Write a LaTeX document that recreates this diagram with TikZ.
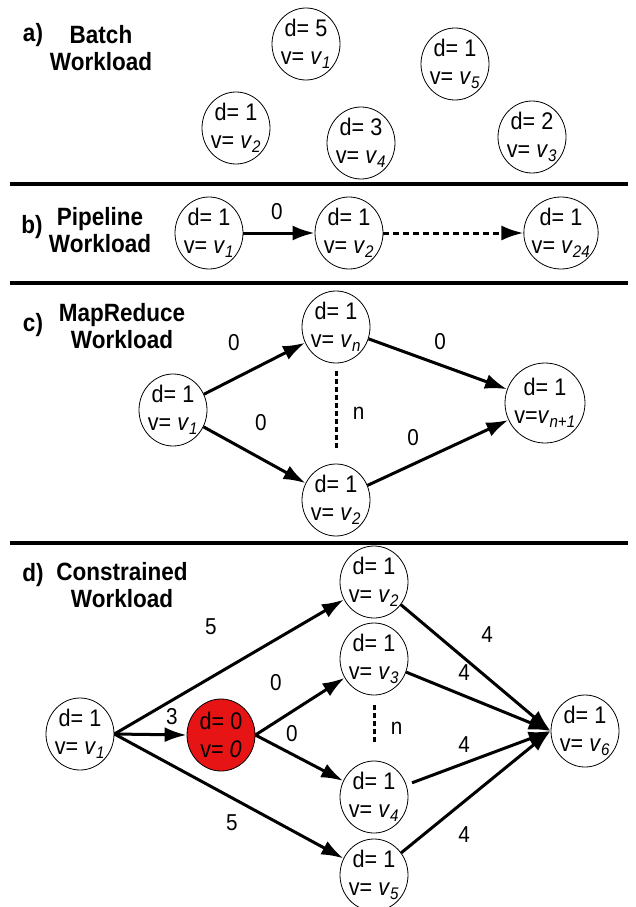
\documentclass[tikz,border=0pt]{standalone}
\usepackage{fontspec}
\setmainfont[FakeStretch=0.9]{Liberation Sans}
\usepackage{tikz}
\usetikzlibrary{positioning}
\usetikzlibrary{arrows.meta,shapes.geometric}

\definecolor{jobred}{RGB}{230,20,20}
\newcommand{\vx}[1]{\textit{v}\textsubscript{\textit{#1}}}

\begin{document}
\begin{tikzpicture}[x=1pt,y=-1pt,>={Latex[length=22pt,width=15pt]},
  job/.style={ellipse,draw,line width=0.8pt,minimum width=68pt,minimum height=72pt,
    inner sep=-3pt,align=center,font=\fontsize{24}{28}\selectfont},
  title/.style={font=\fontsize{25}{27}\bfseries\selectfont,align=center},
  wt/.style={font=\fontsize{23}{26}\selectfont},
  rule/.style={line width=4pt},
  flow/.style={every edge/.style={draw,->,line width=3pt}},
  dots/.style={line width=3pt,dash pattern=on 5pt off 3pt}]
\useasboundingbox (0,0) rectangle (636,907);

% a) batch
  \node[title] (ta) at (33,35)  {a)};
  \node[title] (tA) at (101,48) {Batch\\Workload};
  \node[job] (A1) at (306,44)  {d= 5\\v= \vx{1}};
  \node[job] (A5) at (455,64)  {d= 1\\v= \vx{5}};
  \node[job] (A2) at (236,128) {d= 1\\v= \vx{2}};
  \node[job] (A4) at (361,143) {d= 3\\v= \vx{4}};
  \node[job] (A3) at (532,137) {d= 2\\v= \vx{3}};
\draw[rule] (10,184) -- (628,184);

% b) pipeline
  \node[title] (tb) at (32,227)  {b)};
  \node[title] (tB) at (100,230) {Pipeline\\Workload};
  \node[job] (B1)  at (209,233) {d= 1\\v= \vx{1}};
  \node[job] (B2)  at (349,233) {d= 1\\v= \vx{2}};
  \node[job] (B24) at (561,233) {d= 1\\v= \vx{24}};
  \node[wt] (wb) at (277,212) {0};
\path[flow] (B1.east) edge (B2.west);
\path[flow] (B2.east) edge[dash pattern=on 6pt off 4pt] (B24.west);
\draw[rule] (10,283) -- (628,283);

% c) mapreduce
  \node[title] (tc) at (33,325)  {c)};
  \node[title] (tC) at (122,326) {MapReduce\\Workload};
  \node[job] (C1)  at (173,410) {d= 1\\v= \vx{1}};
  \node[job] (Cn)  at (336,327) {d= 1\\v= \vx{n}};
  \node[job] (C2)  at (336,500) {d= 1\\v= \vx{2}};
  \node[job,minimum width=80pt,minimum height=80pt] (Cn1) at (545,403) {d= 1\\v=\vx{n+1}};
  \node[wt] (wc1) at (234,343) {0};
  \node[wt] (wc2) at (261,423) {0};
  \node[wt] (wc3) at (440,342) {0};
  \node[wt] (wc4) at (413,438) {0};
\path[flow] (C1) edge (Cn)
	  (C1) edge (C2)
	  (Cn) edge (Cn1)
	  (C2) edge (Cn1);
\draw[dots,shorten <=8pt,shorten >=14pt] (Cn) -- node[wt,right=12pt] (nc) {n} (C2);
\draw[rule] (10,543) -- (628,543);

% d) constrained
  \node[title] (td) at (33,575)  {d)};
  \node[title] (tD) at (122,585) {Constrained\\Workload};
  \node[job] (D1) at (80,734)  {d= 1\\v= \vx{1}};
  \node[job,fill=jobred] (D0) at (221,735) {d= 0\\v= \textit{0}};
  \node[job] (D2) at (374,582) {d= 1\\v= \vx{2}};
  \node[job] (D3) at (374,659) {d= 1\\v= \vx{3}};
  \node[job] (D4) at (374,797) {d= 1\\v= \vx{4}};
  \node[job] (D5) at (374,875) {d= 1\\v= \vx{5}};
  \node[job] (D6) at (585,731) {d= 1\\v= \vx{6}};
  \node[wt] (wd1) at (211,627) {5};
  \node[wt] (wd2) at (172,717) {3};
  \node[wt] (wd3) at (232,823) {5};
  \node[wt] (wd4) at (276,683) {0};
  \node[wt] (wd5) at (292,734) {0};
  \node[wt] (wd6) at (487,635) {4};
  \node[wt] (wd7) at (464,673) {4};
  \node[wt] (wd8) at (464,745) {4};
  \node[wt] (wd9) at (464,835) {4};
\path[flow] (D1.east) edge (D2)
	  (D1.east) edge (D0.west)
	  (D1.east) edge (D5)
	  (D0.east) edge (D3)
	  (D0.east) edge (D4)
	  (D2) edge (D6.west)
	  (D3) edge (D6.west)
	  (D4) edge[shorten <=6pt] (D6.west)
	  (D5) edge (D6.west);
\draw[dots,shorten <=10pt,shorten >=18pt] (D3) -- node[wt,right=12pt] (nd) {n} (D4);
\end{tikzpicture}
\end{document}
